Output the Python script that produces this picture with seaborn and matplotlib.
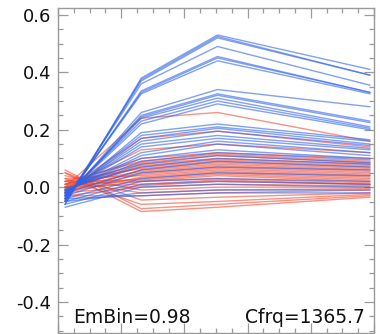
import numpy as np
import pandas as pd
import matplotlib
matplotlib.use("Agg")
import matplotlib.pyplot as plt
from matplotlib.ticker import FixedLocator, MultipleLocator, NullFormatter
import seaborn as sns

# sample steps along the x axis
steps = [0, 1, 2, 4]

# blue traces: value at each step
blue_traces = [
    [-0.060, 0.380, 0.530, 0.410],
    [-0.060, 0.375, 0.525, 0.390],
    [-0.050, 0.370, 0.520, 0.390],
    [-0.050, 0.360, 0.490, 0.355],
    [-0.050, 0.335, 0.455, 0.330],
    [-0.045, 0.330, 0.450, 0.330],
    [-0.045, 0.325, 0.440, 0.325],
    [-0.040, 0.260, 0.340, 0.280],
    [-0.040, 0.250, 0.325, 0.230],
    [-0.035, 0.245, 0.320, 0.225],
    [-0.035, 0.240, 0.310, 0.210],
    [-0.030, 0.230, 0.300, 0.205],
    [-0.030, 0.220, 0.290, 0.200],
    [-0.030, 0.190, 0.220, 0.165],
    [-0.025, 0.180, 0.210, 0.160],
    [-0.025, 0.170, 0.205, 0.150],
    [-0.020, 0.160, 0.195, 0.145],
    [-0.020, 0.150, 0.180, 0.135],
    [-0.020, 0.140, 0.170, 0.130],
    [-0.015, 0.120, 0.160, 0.120],
    [-0.015, 0.110, 0.150, 0.110],
    [-0.010, 0.100, 0.130, 0.100],
    [-0.010, 0.090, 0.120, 0.095],
    [-0.010, 0.080, 0.110, 0.085],
    [-0.005, 0.070, 0.100, 0.080],
    [-0.020, 0.060, 0.090, 0.070],
    [-0.030, 0.050, 0.070, 0.060],
    [-0.040, 0.030, 0.050, 0.040],
    [-0.050, 0.020, 0.030, 0.020],
    [-0.060, 0.010, 0.020, 0.010],
    [-0.070, 0.000, 0.010, 0.000],
    [-0.050, -0.020, -0.010, -0.010],
    [-0.040, -0.030, -0.020, -0.020],
]

# red traces: value at each step
red_traces = [
    [0.000, 0.240, 0.260, 0.160],
    [-0.010, 0.170, 0.195, 0.140],
    [0.000, 0.130, 0.150, 0.120],
    [0.010, 0.100, 0.120, 0.100],
    [0.020, 0.090, 0.115, 0.090],
    [0.000, 0.085, 0.110, 0.085],
    [0.010, 0.080, 0.100, 0.080],
    [-0.010, 0.075, 0.095, 0.075],
    [0.000, 0.070, 0.090, 0.070],
    [0.020, 0.065, 0.085, 0.065],
    [-0.020, 0.060, 0.080, 0.060],
    [0.010, 0.055, 0.075, 0.055],
    [0.000, 0.050, 0.070, 0.050],
    [-0.010, 0.045, 0.065, 0.045],
    [0.030, 0.040, 0.060, 0.040],
    [-0.020, 0.035, 0.055, 0.035],
    [0.000, 0.030, 0.050, 0.030],
    [0.020, 0.025, 0.045, 0.025],
    [-0.010, 0.020, 0.040, 0.020],
    [0.010, 0.020, 0.030, 0.015],
    [0.000, 0.010, 0.025, 0.010],
    [-0.020, 0.005, 0.020, 0.010],
    [-0.030, 0.000, 0.010, 0.005],
    [0.040, -0.010, 0.000, 0.000],
    [0.020, -0.020, -0.010, -0.005],
    [-0.030, -0.030, -0.020, -0.010],
    [0.050, -0.045, -0.035, -0.020],
    [0.030, -0.060, -0.050, -0.025],
    [0.060, -0.075, -0.060, -0.030],
    [0.050, -0.085, -0.070, -0.035],
]

y_ticks = [-0.4, -0.2, 0.0, 0.2, 0.4, 0.6]
y_tick_labels = ["-0.4", "-0.2", "0.0", "0.2", "0.4", "0.6"]
label_left = "EmBin=0.98"
label_right = "Cfrq=1365.7"

# long-form table, one row per trace point
rows = []
uid = 0
for group, traces in (("red", red_traces), ("blue", blue_traces)):
    for tr in traces:
        for s, v in zip(steps, tr):
            rows.append({"step": s, "value": v, "group": group, "trace": uid})
        uid += 1
df = pd.DataFrame(rows)

sns.set_style("white")
plt.rcParams["font.family"] = ["DejaVu Sans"]

fig = plt.figure(figsize=(3.8, 3.34), dpi=100)
ax = fig.add_axes([58 / 380, 1 / 334, 316 / 380, 325 / 334])

sns.lineplot(
    data=df, x="step", y="value", hue="group", units="trace",
    estimator=None, palette={"blue": "#2f62ea", "red": "#f24a32"},
    linewidth=1.0, alpha=0.6, legend=False, ax=ax, sort=False,
)

xlo, xhi = -0.092, 4.052
ax.set_xlim(xlo, xhi)
ax.set_ylim(-0.508, 0.624)

span = xhi - xlo
ax.xaxis.set_major_locator(FixedLocator([xlo + k * span / 5 for k in range(6)]))
ax.xaxis.set_minor_locator(FixedLocator([xlo + k * span / 20 for k in range(21)]))
ax.xaxis.set_major_formatter(NullFormatter())
ax.set_yticks(y_ticks)
ax.set_yticklabels(y_tick_labels)
ax.yaxis.set_minor_locator(MultipleLocator(0.05))

ax.tick_params(which="both", direction="in", top=True, right=True,
               bottom=True, left=True, color="#9a9a9a", width=0.9)
ax.tick_params(which="major", length=7)
ax.tick_params(which="minor", length=3.5)
ax.tick_params(axis="y", labelsize=13, pad=5, labelcolor="#111111")
ax.set_xlabel("")
ax.set_ylabel("")

for sp in ax.spines.values():
    sp.set_visible(True)
    sp.set_color("#9a9a9a")
    sp.set_linewidth(1.0)

ax.text(0.105, -0.473, label_left, ha="left", va="baseline",
        fontsize=13.5, color="#111111")
ax.text(3.93, -0.473, label_right, ha="right", va="baseline",
        fontsize=13.5, color="#111111")

fig.savefig("out.png", dpi=100)
